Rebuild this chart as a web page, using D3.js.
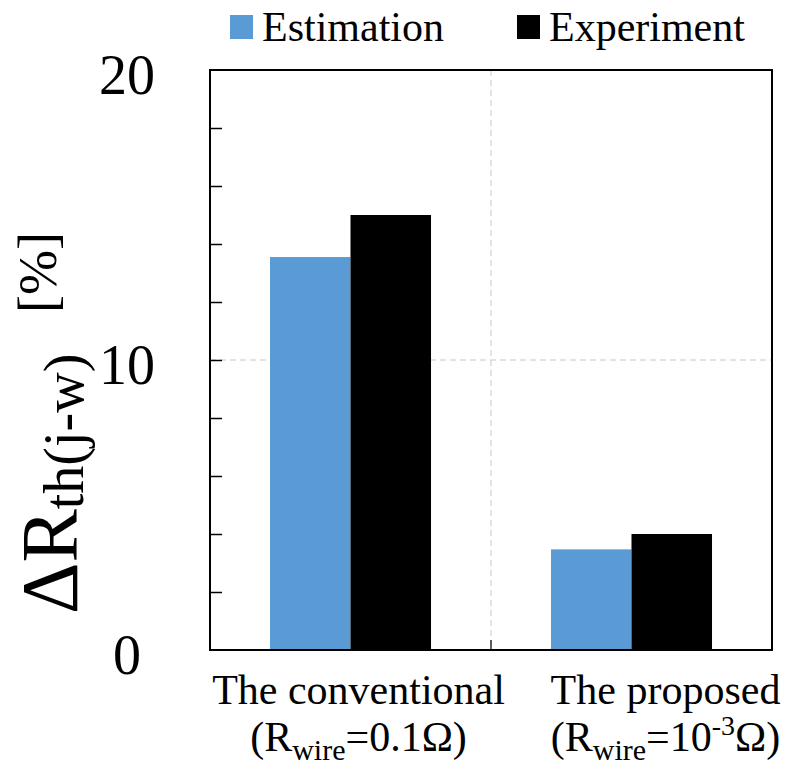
<!DOCTYPE html>
<html>
<head>
<meta charset="utf-8">
<script src="https://cdn.jsdelivr.net/npm/d3@7"></script>
<style>
  html, body { margin: 0; padding: 0; background: #fff; }
  svg text { font-family: "Liberation Serif", "Times New Roman", serif; fill: #000; }
</style>
</head>
<body>
<svg id="chart" width="787" height="769"></svg>
<script>
// Data
const categories = ["conventional", "proposed"];
const categoryTitles = ["The conventional", "The proposed"];
const series = ["Estimation", "Experiment"];
const estimation = [13.55, 3.47];
const experiment = [15.0, 4.0];
const yTicks = [0, 10, 20];
const yMinorTicks = [2, 4, 6, 8, 10, 12, 14, 16, 18];
const colors = { Estimation: "#5B9BD5", Experiment: "#000000" };

const svg = d3.select("#chart");
const margin = { left: 210, right: 15, top: 70, bottom: 119 };
const W = 787, H = 769;
const x0 = margin.left, x1 = W - margin.right;
const y0 = H - margin.bottom, y1 = margin.top;

const x = d3.scaleBand().domain(categories).range([x0, x1]).padding(0);
const xs = d3.scaleBand().domain(series).range([0, x.bandwidth()])
  .paddingInner(0).paddingOuter(0.745);
const y = d3.scaleLinear().domain([0, 20]).range([y0, y1]);

// Grid lines (dashed)
const grid = svg.append("g").attr("stroke", "#c8c8c8").attr("stroke-width", 1)
  .attr("stroke-dasharray", "6,4");
grid.append("line").attr("x1", x0).attr("x2", x1)
  .attr("y1", y(10)).attr("y2", y(10));
grid.append("line").attr("x1", x(categories[1])).attr("x2", x(categories[1]))
  .attr("y1", y1).attr("y2", y0);

// Bars
const rows = categories.map((c, i) => ({ cat: c, Estimation: estimation[i], Experiment: experiment[i] }));
const groups = svg.append("g").selectAll("g").data(rows).join("g")
  .attr("transform", d => `translate(${x(d.cat)},0)`);
groups.selectAll("rect").data(d => series.map(s => ({ s, v: d[s] }))).join("rect")
  .attr("x", d => xs(d.s))
  .attr("width", xs.bandwidth())
  .attr("y", d => y(d.v))
  .attr("height", d => y(0) - y(d.v))
  .attr("fill", d => colors[d.s]);

// Left axis: inward minor ticks
const yAxis = d3.axisLeft(y).tickValues(yMinorTicks).tickSize(-12).tickFormat("");
const ga = svg.append("g").attr("transform", `translate(${x0},0)`).call(yAxis);
ga.select(".domain").remove();
ga.selectAll(".tick line").attr("stroke", "#000").attr("stroke-width", 1.5);

// Bottom category divider tick
svg.append("line").attr("x1", x(categories[1])).attr("x2", x(categories[1]))
  .attr("y1", y0).attr("y2", y0 - 10).attr("stroke", "#000").attr("stroke-width", 1.2);

// Frame
svg.append("rect").attr("x", x0).attr("y", y1).attr("width", x1 - x0).attr("height", y0 - y1)
  .attr("fill", "none").attr("stroke", "#000").attr("stroke-width", 2);

// Y tick labels
svg.append("g").selectAll("text").data(yTicks).join("text")
  .attr("x", 127).attr("y", d => y(d)).attr("dy", "0.42em")
  .attr("text-anchor", "middle").attr("font-size", 56)
  .text(d => d);

// Y axis title: quantity with subscript, unit in brackets
const yt = svg.append("text")
  .attr("transform", "translate(77,614) rotate(-90)")
  .attr("text-anchor", "start").attr("font-size", 80);
yt.append("tspan").text("\u0394R");
yt.append("tspan").attr("font-size", 56).attr("dy", 6).text("th(j-w)");
svg.append("text")
  .attr("transform", "translate(56,232) rotate(-90)")
  .attr("text-anchor", "end").attr("font-size", 54)
  .text("[%]");

// Category labels
const labelOffsets = [8, 34];
const cl = svg.append("g").selectAll("g").data(categories).join("g")
  .attr("transform", (d, i) => `translate(${x(d) + x.bandwidth() / 2 + labelOffsets[i]},0)`);
cl.append("text").attr("y", 704).attr("text-anchor", "middle").attr("font-size", 42)
  .text((d, i) => categoryTitles[i]);
const sub = cl.append("text").attr("y", 751).attr("text-anchor", "middle").attr("font-size", 42);
sub.append("tspan").text("(R");
sub.append("tspan").attr("font-size", 30).attr("dy", 9).text("wire");
sub.append("tspan").attr("dy", -9).text("=");
sub.each(function (d, i) {
  const t = d3.select(this);
  if (i === 0) {
    t.append("tspan").text("0.1\u03A9)");
  } else {
    t.append("tspan").text("10");
    t.append("tspan").attr("font-size", 28).attr("dy", -16).text("-3");
    t.append("tspan").attr("dy", 16).text("\u03A9)");
  }
});

// Legend
const legendPos = [{ sx: 230, tx: 262 }, { sx: 517, tx: 549 }];
const lg = svg.append("g").selectAll("g").data(series).join("g");
lg.append("rect").attr("x", (d, i) => legendPos[i].sx).attr("y", 15)
  .attr("width", 23).attr("height", 24).attr("fill", d => colors[d]);
lg.append("text").attr("x", (d, i) => legendPos[i].tx).attr("y", 41)
  .attr("font-size", 42).text(d => d);
</script>
</body>
</html>
